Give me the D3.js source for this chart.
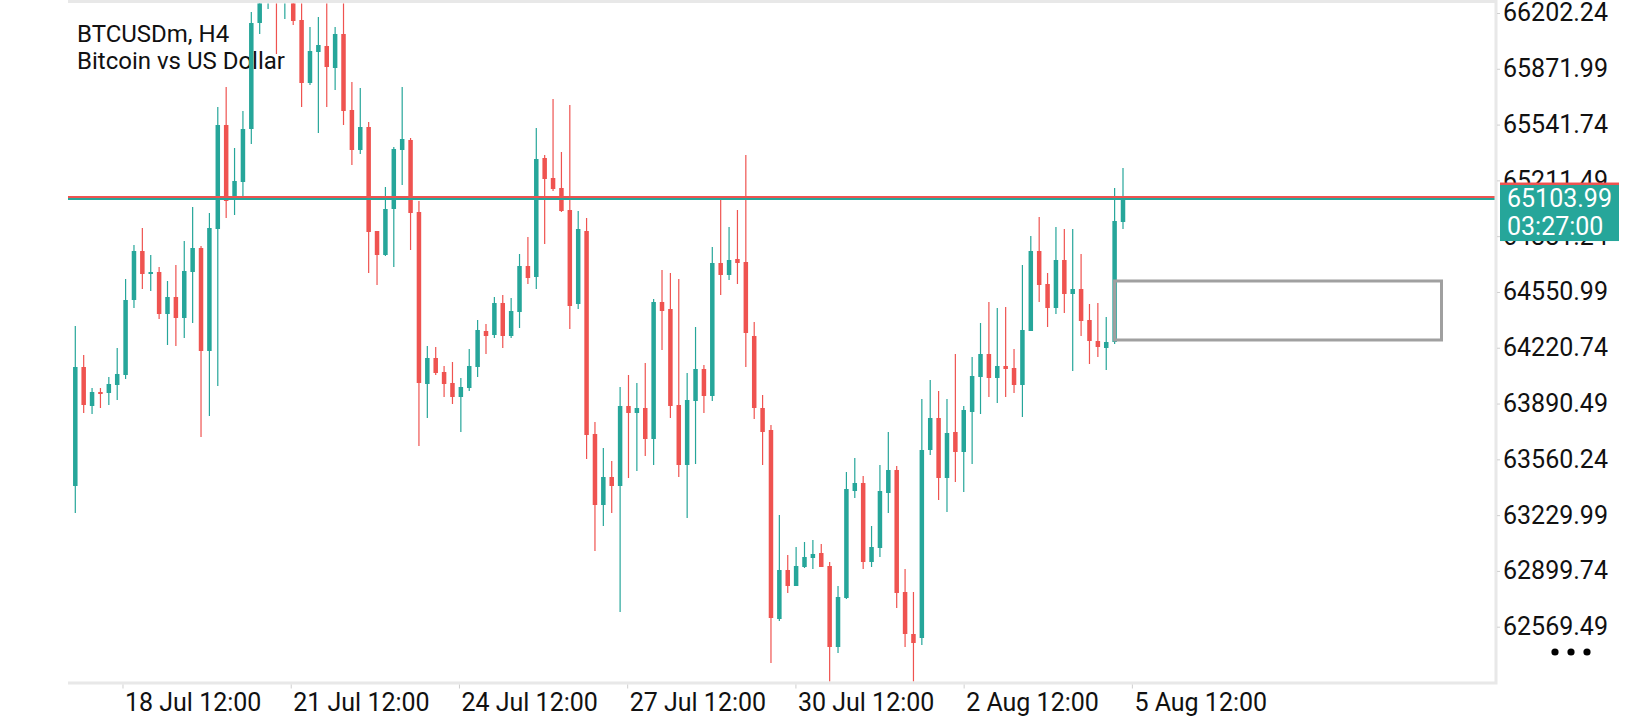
<!DOCTYPE html>
<html>
<head>
<meta charset="utf-8">
<script src="https://cdn.jsdelivr.net/npm/d3@7"></script>
<style>
  html, body { margin: 0; padding: 0; background: #fff; }
  svg { display: block; font-family: Roboto, "Noto Sans", sans-serif; }
</style>
</head>
<body>
<div id="root"></div>
<script>
const width = 1640;
const height = 720;

// BTCUSDm H4 bars, oldest first
const open = [
  63402.41, 64106.81, 63875.95, 63958.82, 63952.91, 64000.26, 64059.45, 64503.40, 64793.45, 64657.30,
  64669.14, 64420.53, 64521.16, 64396.85, 64669.14, 64811.20, 64201.52, 64923.67, 65539.28, 65095.33,
  65201.88, 65515.60, 66143.05, 66314.71, 66397.58, 66302.87, 66362.06, 66160.80, 65787.89, 65971.39,
  66006.90, 65876.68, 66077.93, 65628.07, 65391.29, 65527.44, 64911.83, 64769.77, 65042.06, 65391.29,
  65450.49, 65024.30, 64006.18, 64160.08, 64077.21, 64012.10, 63929.23, 63982.50, 64106.81, 64319.90,
  64296.22, 64485.64, 64290.31, 64432.37, 64704.66, 64639.54, 65343.94, 65225.55, 65166.36, 65036.14,
  64479.72, 64911.83, 63710.21, 63289.94, 63455.68, 63402.41, 63875.95, 63834.52, 63864.12, 63680.62,
  64491.56, 64450.13, 63881.87, 63526.72, 63905.55, 64094.97, 63935.15, 64722.41, 64651.38, 64746.09,
  64728.33, 64290.31, 63864.12, 63733.89, 62615.14, 62905.19, 62810.48, 62922.95, 62976.22, 63005.82,
  62928.87, 62449.40, 62739.45, 63372.81, 63420.17, 62952.54, 63035.41, 63360.98, 63497.12, 62774.96,
  62526.35, 62502.68, 63615.50, 63804.92, 63449.76, 63722.05, 63603.67, 63840.44, 64047.61, 64183.76,
  64041.69, 64112.73, 64100.89, 64000.26, 64319.90, 64793.45, 64598.11, 64456.05, 64740.17, 64538.92,
  64568.51, 64385.01, 64260.71, 64219.27, 64254.79, 64965.11
];
const high = [
  64349.50, 64177.84, 63982.50, 63982.50, 64047.61, 64219.27, 64627.71, 64828.96, 64929.59, 64769.77,
  64698.74, 64615.87, 64710.58, 64852.64, 65053.89, 64823.04, 65018.38, 65645.82, 65764.21, 65403.13,
  65622.15, 66208.16, 66350.22, 66456.77, 66444.93, 66427.17, 66397.58, 66296.95, 66119.37, 66178.56,
  66279.19, 66119.37, 66279.19, 65793.81, 65758.29, 65557.04, 64911.83, 65172.28, 65409.05, 65764.21,
  65462.33, 65089.41, 64231.11, 64225.19, 64112.73, 64136.40, 64041.69, 64213.35, 64385.01, 64361.34,
  64521.16, 64533.00, 64515.24, 64775.69, 64876.32, 65521.52, 65361.70, 65693.18, 65379.46, 65657.66,
  65030.22, 64988.78, 63781.25, 63627.34, 63550.39, 63988.42, 64059.45, 64012.10, 64130.48, 64509.32,
  64680.98, 64663.22, 64627.71, 64071.29, 64343.58, 64118.65, 64817.12, 65113.09, 64935.51, 65036.14,
  65361.70, 64373.18, 63941.07, 63763.49, 63230.75, 62993.98, 63041.33, 63070.93, 63082.77, 63059.09,
  62952.54, 62810.48, 63485.28, 63568.15, 63461.60, 63165.64, 63526.72, 63722.05, 63520.80, 62911.11,
  62774.96, 63917.39, 64029.86, 63964.74, 63917.39, 64183.76, 63875.95, 64166.00, 64367.26, 64491.56,
  64456.05, 64461.96, 64213.35, 64710.58, 64882.24, 64994.70, 64663.22, 64935.51, 64923.67, 64923.67,
  64775.69, 64479.72, 64485.64, 64402.77, 65166.36, 65284.75
];
const low = [
  63242.59, 63834.52, 63828.60, 63864.12, 63881.87, 63911.47, 64035.78, 64456.05, 64568.51, 64556.67,
  64390.93, 64237.03, 64231.11, 64278.47, 64367.26, 63692.46, 63816.76, 63994.34, 64988.78, 65006.54,
  65095.33, 65426.81, 66077.93, 66225.92, 65959.55, 66166.72, 66131.21, 65645.82, 65776.05, 65491.92,
  65645.82, 65746.45, 65539.28, 65302.51, 65367.62, 64663.22, 64592.19, 64763.85, 64698.74, 65184.12,
  64799.36, 63639.18, 63804.92, 64059.45, 63929.23, 63887.79, 63722.05, 63964.74, 64047.61, 64183.76,
  64278.47, 64219.27, 64278.47, 64337.66, 64598.11, 64568.51, 64834.88, 65148.60, 65024.30, 64331.74,
  64450.13, 63562.23, 63017.66, 63165.64, 63242.59, 62656.58, 63449.76, 63491.20, 63579.99, 63526.72,
  64207.43, 63804.92, 63455.68, 63212.99, 63532.63, 63834.52, 63905.55, 64533.00, 64621.79, 64598.11,
  64106.81, 63799.00, 63526.72, 62354.69, 62603.30, 62769.05, 62810.48, 62917.03, 62911.11, 62922.95,
  62230.39, 62413.89, 62733.53, 63331.38, 62911.11, 62922.95, 62982.14, 63242.59, 62680.26, 62449.40,
  62236.31, 62461.24, 63585.91, 63319.54, 63248.51, 63426.09, 63366.89, 63532.63, 63828.60, 63929.23,
  63893.71, 63929.23, 63952.91, 63810.84, 64319.90, 64491.56, 64343.58, 64420.53, 64426.45, 64083.13,
  64290.31, 64124.56, 64166.00, 64089.05, 64242.95, 64923.67
];
const close = [
  64106.81, 63881.87, 63958.82, 63946.99, 64006.18, 64065.37, 64503.40, 64793.45, 64657.30, 64669.14,
  64420.53, 64521.16, 64396.85, 64675.06, 64811.20, 64201.52, 64929.59, 65539.28, 65089.41, 65207.80,
  65515.60, 66143.05, 66291.03, 66385.74, 66326.54, 66373.90, 66154.88, 65787.89, 65977.31, 66012.82,
  65882.60, 66077.93, 65622.15, 65391.29, 65527.44, 64905.91, 64769.77, 65042.06, 65397.21, 65456.41,
  65018.38, 64012.10, 64160.08, 64071.29, 64006.18, 63929.23, 63988.42, 64112.73, 64325.82, 64290.31,
  64485.64, 64290.31, 64438.29, 64704.66, 64633.62, 65338.02, 65219.64, 65160.44, 65030.22, 64467.88,
  64923.67, 63704.29, 63289.94, 63455.68, 63402.41, 63875.95, 63834.52, 63864.12, 63680.62, 64491.56,
  64438.29, 63875.95, 63526.72, 63911.47, 64094.97, 63935.15, 64722.41, 64651.38, 64740.17, 64722.41,
  64308.06, 63864.12, 63722.05, 62621.06, 62905.19, 62810.48, 62928.87, 62982.14, 62999.90, 62922.95,
  62449.40, 62745.37, 63384.65, 63420.17, 62952.54, 63041.33, 63372.81, 63497.12, 62769.05, 62526.35,
  62473.08, 63615.50, 63804.92, 63449.76, 63716.13, 63603.67, 63852.28, 64053.53, 64183.76, 64041.69,
  64112.73, 64094.97, 64000.26, 64325.82, 64793.45, 64592.19, 64456.05, 64740.17, 64538.92, 64568.51,
  64379.09, 64260.71, 64225.19, 64254.79, 64971.02, 65103.99
];

const priceTicks = [
  66202.24, 65871.99, 65541.74, 65211.49, 64881.24, 64550.99,
  64220.74, 63890.49, 63560.24, 63229.99, 62899.74, 62569.49
];
const timeTicks = [
  new Date(2024, 6, 18, 12), new Date(2024, 6, 21, 12), new Date(2024, 6, 24, 12),
  new Date(2024, 6, 27, 12), new Date(2024, 6, 30, 12), new Date(2024, 7, 2, 12),
  new Date(2024, 7, 5, 12)
];
// bar positions where the first and last time label fall
const timeAnchorBars = [5.63, 126.06];

const bid = 65103.99;
const ask = 65115.85;
const countdown = "03:27:00";
const titleLines = ["BTCUSDm, H4", "Bitcoin vs US Dollar"];

// drawn rectangle object: bar index range and price range
const boxObject = { from: 124, to: 163, top: 64615.87, bottom: 64266.63 };

const up = "#26a69a";
const down = "#ef5350";
const frameColor = "#e8e8e8";

const plot = { left: 68, right: 1496, top: 3, bottom: 683 };

const bars = open.map((o, i) => ({ i, o, h: high[i], l: low[i], c: close[i] }));

const x = d3.scaleLinear()
    .domain([0, bars.length - 1])
    .range([75.3, 1123]);

const y = d3.scaleLinear()
    .domain([62236.3, 66261.4])
    .range([plot.bottom, plot.top]);

const xt = d3.scaleTime()
    .domain([timeTicks[0], timeTicks[timeTicks.length - 1]])
    .range(timeAnchorBars.map(x));

const svg = d3.select("#root")
    .append("svg")
    .attr("width", width)
    .attr("height", height)
    .attr("viewBox", [0, 0, width, height]);

svg.append("defs")
    .append("clipPath")
    .attr("id", "plotclip")
    .append("rect")
    .attr("x", plot.left)
    .attr("y", plot.top + 0.5)
    .attr("width", plot.right - plot.left - 2)
    .attr("height", plot.bottom - plot.top - 2);

// title
svg.append("g")
    .selectAll("text")
    .data(titleLines)
    .join("text")
    .attr("x", 77)
    .attr("y", (d, i) => 42 + i * 27)
    .attr("font-size", 24)
    .attr("fill", "#111")
    .text(d => d);

const candles = svg.append("g")
    .attr("clip-path", "url(#plotclip)");

candles.selectAll(".wick")
    .data(bars)
    .join("line")
    .classed("wick", true)
    .attr("x1", d => x(d.i))
    .attr("x2", d => x(d.i))
    .attr("y1", d => y(d.h))
    .attr("y2", d => y(d.l))
    .attr("stroke", d => d.c >= d.o ? up : down)
    .attr("stroke-width", 1.2);

candles.selectAll(".body")
    .data(bars)
    .join("rect")
    .classed("body", true)
    .attr("x", d => x(d.i) - 2.25)
    .attr("width", 4.5)
    .attr("y", d => y(Math.max(d.o, d.c)))
    .attr("height", d => Math.max(1.5, Math.abs(y(d.o) - y(d.c))))
    .attr("fill", d => d.c >= d.o ? up : down);

// ask / bid lines, snapped to whole pixels so they stay crisp
svg.append("line")
    .attr("x1", plot.left).attr("x2", plot.right - 1)
    .attr("y1", Math.round(y(ask))).attr("y2", Math.round(y(ask)))
    .attr("stroke", down)
    .attr("stroke-width", 2);

svg.append("line")
    .attr("x1", plot.left).attr("x2", plot.right - 1)
    .attr("y1", Math.round(y(bid))).attr("y2", Math.round(y(bid)))
    .attr("stroke", up)
    .attr("stroke-width", 2);

// rectangle object
svg.append("rect")
    .attr("x", x(boxObject.from))
    .attr("y", y(boxObject.top))
    .attr("width", x(boxObject.to) - x(boxObject.from))
    .attr("height", y(boxObject.bottom) - y(boxObject.top))
    .attr("fill", "none")
    .attr("stroke", "#a0a0a0")
    .attr("stroke-width", 3);

// frame
svg.append("path")
    .attr("d", `M${plot.left},1.5H${plot.right}V${plot.bottom}H${plot.left}`)
    .attr("fill", "none")
    .attr("stroke", frameColor)
    .attr("stroke-width", 3);

// price axis
const yAxis = svg.append("g")
    .attr("transform", `translate(${plot.right + 1},0)`)
    .call(d3.axisRight(y)
        .tickValues(priceTicks)
        .tickSize(3)
        .tickPadding(3)
        .tickFormat(d3.format(".2f")));
yAxis.select(".domain").remove();
yAxis.selectAll(".tick line").attr("stroke", "#cfcfcf");
yAxis.selectAll(".tick text")
    .attr("font-family", "Roboto, 'Noto Sans', sans-serif")
    .attr("font-size", 25)
    .attr("fill", "#111");

// time axis
const xAxis = svg.append("g")
    .attr("transform", `translate(0,${plot.bottom + 1.5})`)
    .call(d3.axisBottom(xt)
        .tickValues(timeTicks)
        .tickSize(4)
        .tickPadding(5)
        .tickFormat(d3.timeFormat("%-d %b %H:%M")));
xAxis.select(".domain").remove();
xAxis.selectAll(".tick line").attr("stroke", "#cfcfcf");
xAxis.selectAll(".tick text")
    .attr("text-anchor", "start")
    .attr("x", 2)
    .attr("font-family", "Roboto, 'Noto Sans', sans-serif")
    .attr("font-size", 25)
    .attr("fill", "#111");

// current price labels
const labelX = plot.right + 4;
const labelW = 119;
svg.append("rect")
    .attr("x", labelX)
    .attr("y", y(ask) - 14)
    .attr("width", labelW)
    .attr("height", 28)
    .attr("fill", down);

svg.append("rect")
    .attr("x", labelX)
    .attr("y", y(bid) - 13.5)
    .attr("width", labelW)
    .attr("height", 56)
    .attr("fill", up);

svg.append("g")
    .selectAll("text")
    .data([d3.format(".2f")(bid), countdown])
    .join("text")
    .attr("x", labelX + 7)
    .attr("y", (d, i) => y(bid) + 8.5 + i * 27.5)
    .attr("font-size", 25)
    .attr("fill", "#fff")
    .text(d => d);

// menu dots
svg.append("g")
    .selectAll("circle")
    .data([0, 1, 2])
    .join("circle")
    .attr("cx", d => 1555 + d * 16)
    .attr("cy", 652)
    .attr("r", 3.6)
    .attr("fill", "#000");
</script>
</body>
</html>
